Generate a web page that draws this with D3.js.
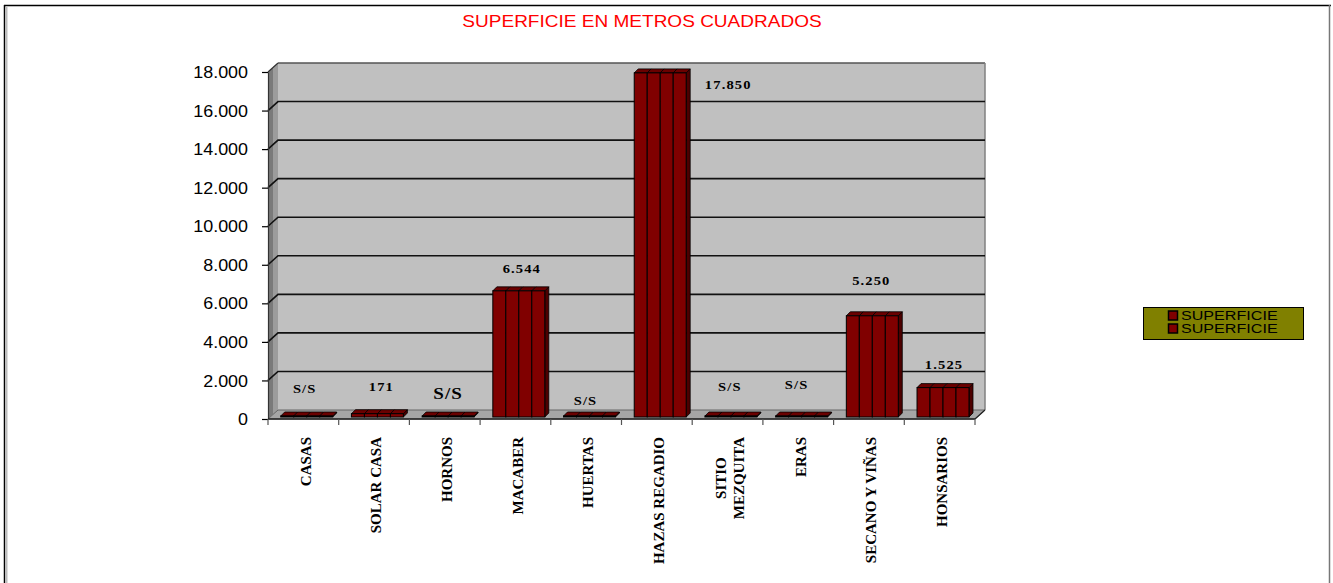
<!DOCTYPE html>
<html>
<head>
<meta charset="utf-8">
<script src="https://cdn.jsdelivr.net/npm/d3@7"></script>
<style>
  html, body { margin: 0; padding: 0; background: #fff; }
  svg { display: block; }
</style>
</head>
<body>
<svg id="chart" width="1333" height="583"></svg>
<script>
// ---- data ----
const title = "SUPERFICIE EN METROS CUADRADOS";
const categories = ["CASAS", "SOLAR CASA", "HORNOS", "MACABER", "HUERTAS",
  "HAZAS REGADIO", "SITIO\nMEZQUITA", "ERAS", "SECANO Y VIÑAS", "HONSARIOS"];
const values = [0, 171, 0, 6544, 0, 17850, 0, 0, 5250, 1525];
const valueLabels = ["S/S", "171", "S/S", "6.544", "S/S", "17.850", "S/S", "S/S", "5.250", "1.525"];
const yTicks = [0, 2000, 4000, 6000, 8000, 10000, 12000, 14000, 16000, 18000];
const legendLabels = ["SUPERFICIE", "SUPERFICIE"];

// ---- layout (label nudges as placed in the original) ----
const labelNudge = [[-2, -28], [4, -27], [0, -23], [3, -22], [-4, -16],
  [68, 12], [-1, -30], [-5, -32], [-1, -35], [1, -23]];
const labelSize = [13, 13, 17, 13, 13, 13, 13, 13, 13, 13];

const svg = d3.select("#chart");
const SX = 1.12; // horizontal stretch of the original rendering

const left = 268, right = 975, base = 419, topY = 72;
const depthX = 10, depthY = 9;

const y = d3.scaleLinear().domain([0, 18000]).range([base, topY]);
const x = d3.scaleBand().domain(categories).range([left, right]);
const loc = d3.formatLocale({decimal: ",", thousands: ".", grouping: [3], currency: ["", ""]});
const fmt = loc.format(",d");

// outer frame
svg.append("line").attr("x1", 4).attr("x2", 1331).attr("y1", 5.5).attr("y2", 5.5).attr("stroke", "#000").attr("stroke-width", 1.5);
svg.append("line").attr("x1", 4.5).attr("x2", 4.5).attr("y1", 5).attr("y2", 583).attr("stroke", "#000").attr("stroke-width", 1.5);
svg.append("line").attr("x1", 6.5).attr("x2", 6.5).attr("y1", 7).attr("y2", 583).attr("stroke", "#bbb").attr("stroke-width", 2);
svg.append("line").attr("x1", 1329.5).attr("x2", 1329.5).attr("y1", 5).attr("y2", 583).attr("stroke", "#777").attr("stroke-width", 1.5);

// title
svg.append("text")
  .attr("transform", `translate(642,27) scale(${SX},1)`)
  .attr("text-anchor", "middle")
  .attr("font-family", "Liberation Sans, Arial, sans-serif")
  .attr("font-size", 17)
  .attr("fill", "#ff0000")
  .text(title);

// back wall
svg.append("rect")
  .attr("x", left + depthX).attr("y", y(18000) - depthY)
  .attr("width", right - left).attr("height", base - y(18000))
  .attr("fill", "#c0c0c0");
svg.append("line").attr("x1", left + depthX).attr("x2", right + depthX)
  .attr("y1", y(18000) - depthY).attr("y2", y(18000) - depthY)
  .attr("stroke", "#555").attr("stroke-width", 1.5);
svg.append("line").attr("x1", right + depthX).attr("x2", right + depthX)
  .attr("y1", y(18000) - depthY).attr("y2", base - depthY)
  .attr("stroke", "#808080").attr("stroke-width", 1.5);

// side wall
svg.append("path")
  .attr("d", `M${left},${y(18000)}L${left + depthX},${y(18000) - depthY}L${left + depthX},${base - depthY}L${left},${base}Z`)
  .attr("fill", "#7a7a7a");
svg.append("path")
  .attr("d", `M${left + 5},${y(18000) - 4.5}L${left + depthX},${y(18000) - depthY}L${left + depthX},${base - depthY}L${left + 5},${base - 4.5}Z`)
  .attr("fill", "#9c9c9c");

// floor
svg.append("path")
  .attr("d", `M${left},${base}L${left + depthX},${base - depthY}L${right + depthX},${base - depthY}L${right},${base}Z`)
  .attr("fill", "#a6a6a6").attr("stroke", "#666").attr("stroke-width", 1);

// gridlines
yTicks.filter(v => v > 0 && v < 18000).forEach(v => {
  svg.append("path")
    .attr("d", `M${left},${y(v)}L${left + depthX},${y(v) - depthY}L${right + depthX},${y(v) - depthY}`)
    .attr("fill", "none").attr("stroke", "#111").attr("stroke-width", 1.6);
});
svg.append("path")
  .attr("d", `M${left},${y(18000)}L${left + depthX},${y(18000) - depthY}`)
  .attr("fill", "none").attr("stroke", "#333").attr("stroke-width", 1.2);

// y axis
const yAxis = svg.append("g").attr("transform", `translate(${left},0)`)
  .call(d3.axisLeft(y).tickValues(yTicks).tickSize(6).tickSizeOuter(0).tickFormat(fmt));
yAxis.select(".domain").attr("stroke", "#333").attr("stroke-width", 1.2);
yAxis.selectAll(".tick line").attr("stroke", "#000").attr("stroke-width", 1.2);
yAxis.selectAll(".tick text")
  .attr("x", null).attr("dy", "0.35em")
  .attr("transform", `translate(-20,0) scale(${SX},1)`)
  .attr("font-family", "Liberation Sans, Arial, sans-serif")
  .attr("font-size", 16).attr("fill", "#000");

// x axis
const xAxisG = svg.append("g");
xAxisG.append("line").attr("x1", left).attr("x2", right).attr("y1", base).attr("y2", base)
  .attr("stroke", "#222").attr("stroke-width", 1.5);
xAxisG.append("line").attr("x1", right).attr("x2", right + depthX).attr("y1", base).attr("y2", base - depthY)
  .attr("stroke", "#222").attr("stroke-width", 1.2);
categories.concat([null]).forEach((c, i) => {
  const xx = c === null ? right : x(c);
  xAxisG.append("line").attr("x1", xx).attr("x2", xx).attr("y1", base).attr("y2", base + 6)
    .attr("stroke", "#555").attr("stroke-width", 1.2);
});

// bars
const bw = x.bandwidth();
const barW = bw * 0.735;
const bDX = 4, bDY = 4;
const barG = svg.append("g");
categories.forEach((c, i) => {
  const x0 = x(c) + bw * 0.18;
  const yb = base - 2;
  let yt = y(values[i]) - 2;
  if (yb - yt < 1) yt = yb - 1;
  const sub = barW / 4;
  // side face
  barG.append("path")
    .attr("d", `M${x0 + barW},${yt}L${x0 + barW + bDX},${yt - bDY}L${x0 + barW + bDX},${yb - bDY}L${x0 + barW},${yb}Z`)
    .attr("fill", "#4d0000").attr("stroke", "#000").attr("stroke-width", 0.8);
  for (let k = 0; k < 4; k++) {
    const sx = x0 + k * sub;
    // top face
    barG.append("path")
      .attr("d", `M${sx},${yt}L${sx + bDX},${yt - bDY}L${sx + sub + bDX},${yt - bDY}L${sx + sub},${yt}Z`)
      .attr("fill", "#6a0000").attr("stroke", "#000").attr("stroke-width", 0.8);
    // front face
    barG.append("rect")
      .attr("x", sx).attr("y", yt).attr("width", sub).attr("height", yb - yt)
      .attr("fill", "#800000").attr("stroke", "#000").attr("stroke-width", 1);
  }
  // value label
  const cx = x0 + barW / 2 + labelNudge[i][0];
  const cy = yt + labelNudge[i][1];
  svg.append("text")
    .attr("transform", `translate(${cx},${cy}) scale(${SX},1)`)
    .attr("text-anchor", "middle").attr("dy", "0.35em")
    .attr("font-family", "Liberation Serif, 'Times New Roman', serif")
    .attr("font-weight", "bold").attr("font-size", labelSize[i])
    .attr("letter-spacing", 1).attr("fill", "#000")
    .text(valueLabels[i]);
});

// x category labels (rotated)
categories.forEach((c, i) => {
  const lines = c.split("\n");
  const cx = x(c) + bw / 2 + 2;
  const t = svg.append("text")
    .attr("font-family", "Liberation Serif, 'Times New Roman', serif")
    .attr("font-weight", "bold").attr("font-size", 15).attr("fill", "#000");
  if (lines.length === 1) {
    t.attr("transform", `translate(${cx},437) rotate(-90)`)
      .attr("text-anchor", "end").attr("dy", "0.35em").text(c);
  } else {
    const lh = 18;
    t.attr("text-anchor", "middle");
    lines.forEach((ln, j) => {
      t.append("tspan").attr("x", 0).attr("y", (j - (lines.length - 1) / 2) * lh).attr("dy", "0.35em").text(ln);
    });
    const maxLen = d3.max(t.selectAll("tspan").nodes(), n => n.getComputedTextLength());
    t.attr("transform", `translate(${cx},${437 + maxLen / 2}) rotate(-90)`);
  }
});

// legend
const lg = svg.append("g");
lg.append("rect").attr("x", 1143.5).attr("y", 307.5).attr("width", 160).attr("height", 32)
  .attr("fill", "#808000").attr("stroke", "#000").attr("stroke-width", 1);
legendLabels.forEach((l, i) => {
  const cyL = 315.5 + i * 13;
  lg.append("rect").attr("x", 1168.5).attr("y", cyL - 4.5).attr("width", 9).attr("height", 9)
    .attr("fill", "#800000").attr("stroke", "#000").attr("stroke-width", 1.5);
  lg.append("text")
    .attr("transform", `translate(1181,${cyL}) scale(1.24,1)`)
    .attr("dy", "0.36em")
    .attr("font-family", "Liberation Sans, Arial, sans-serif")
    .attr("font-size", 13).attr("fill", "#000")
    .text(l);
});
</script>
</body>
</html>
